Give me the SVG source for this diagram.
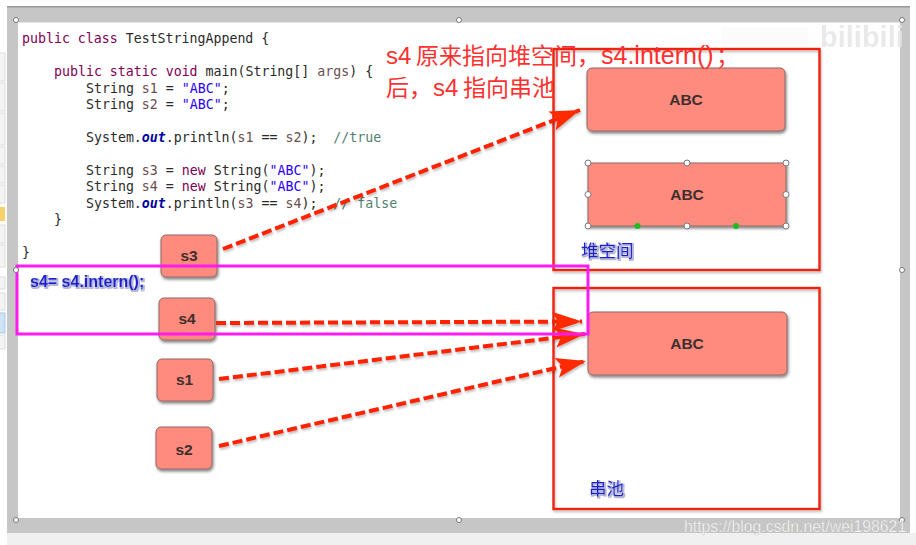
<svg xmlns="http://www.w3.org/2000/svg" width="916" height="545" viewBox="0 0 916 545">
<defs>
<filter id="sh" x="-20%" y="-20%" width="140%" height="140%"><feDropShadow dx="1" dy="2" stdDeviation="1.5" flood-color="#000" flood-opacity="0.5"/></filter>
<filter id="ls" filterUnits="userSpaceOnUse" x="0" y="0" width="916" height="545"><feDropShadow dx="1" dy="2" stdDeviation="1.2" flood-color="#000" flood-opacity="0.25"/></filter>
<filter id="glow" filterUnits="userSpaceOnUse" x="0" y="0" width="916" height="545"><feMorphology in="SourceAlpha" operator="dilate" radius="0.8" result="d"/><feFlood flood-color="#9aa0c8" flood-opacity="0.75"/><feComposite in2="d" operator="in" result="o"/><feOffset in="o" dx="0.6" dy="0.6" result="o2"/><feMerge><feMergeNode in="o2"/><feMergeNode in="SourceGraphic"/></feMerge></filter>
<marker id="arrow" markerUnits="userSpaceOnUse" markerWidth="34" markerHeight="26" refX="30" refY="13" orient="auto"><path d="M0 3 L30 13 L0 23 L6 13 Z" fill="#ff2a00"/></marker>
</defs>
<style>
.code{font-family:"DejaVu Sans Mono","Liberation Mono",monospace;font-size:13.25px;fill:#2a2a2a;white-space:pre}
.k{fill:#7f0055}.v{fill:#6a4e4e}.s{fill:#2a00ff}.c{fill:#4f8070}.o{fill:#0000a0;font-style:italic;font-weight:bold}
.box{fill:#ff8a7e;stroke:#8a6a66;stroke-width:1;filter:url(#sh)}
.lbl{font-family:"Liberation Sans",Arial,sans-serif;font-weight:bold;font-size:15.5px;fill:#3c2f2d;text-anchor:middle}
.frame{fill:none;stroke:#ee2211;stroke-width:2.4;filter:url(#ls)}
.red{font-family:"Liberation Sans","Noto Sans CJK SC",sans-serif;font-size:23px;fill:#ff3030}
.blue{font-family:"Liberation Sans","Noto Sans CJK SC",sans-serif;font-size:17.5px;fill:#1a1ad0;filter:url(#glow)}
.conn{fill:none;stroke:#ff2200;stroke-width:4;stroke-dasharray:10 4;filter:url(#ls)}
.h{fill:#fff;stroke:#777;stroke-width:1}
.g{fill:#22bb22}
.tb{fill:#f4f4f4;stroke:#dcdcdc;stroke-width:1}
</style>
<rect width="916" height="545" fill="#ffffff"/>
<rect x="7" y="533" width="909" height="12" fill="#f0f0f0"/>
<g id="toolbar">
<rect class="tb" x="-2" y="53" width="7" height="28"/><rect class="tb" x="-2" y="83" width="7" height="28"/>
<rect class="tb" x="-2" y="113" width="7" height="32"/><rect class="tb" x="-2" y="147" width="7" height="17"/>
<rect class="tb" x="-2" y="166" width="7" height="17"/><rect class="tb" x="-2" y="185" width="7" height="18"/>
<rect x="0" y="207" width="5" height="14" fill="#f7d26a"/>
<rect class="tb" x="-2" y="225" width="7" height="18"/><rect class="tb" x="-2" y="245" width="7" height="22"/>
<rect class="tb" x="-2" y="277" width="7" height="12"/><rect class="tb" x="-2" y="293" width="7" height="17"/>
<rect x="-2" y="313" width="7" height="20" fill="#cfe3f7" stroke="#a8c8e8"/>
<rect class="tb" x="-2" y="335" width="7" height="14"/>
</g>
<rect x="7" y="7" width="903" height="526" fill="#c6c6c6"/>
<rect x="7" y="6" width="903" height="1.500" fill="#9a9a9a"/>
<rect x="18" y="22.500" width="882" height="495.500" fill="#ffffff"/>
<g id="watermark">
<rect x="721" y="27" width="87" height="18" fill="#fbfbfb"/>
<text x="820" y="47" font-family="Liberation Sans,sans-serif" font-size="29" font-weight="bold" fill="#e6e6e6" opacity="0.85">bilibili</text>
</g>

<g id="code">
<text class="code" x="22" y="43"><tspan class="k">public class</tspan> TestStringAppend {</text>
<text class="code" x="54" y="76"><tspan class="k">public static void</tspan> main(String[] <tspan class="v">args</tspan>) {</text>
<text class="code" x="86" y="93">String <tspan class="v">s1</tspan> = <tspan class="s">"ABC"</tspan>;</text>
<text class="code" x="86" y="109">String <tspan class="v">s2</tspan> = <tspan class="s">"ABC"</tspan>;</text>
<text class="code" x="86" y="142">System.<tspan class="o">out</tspan>.println(<tspan class="v">s1</tspan> == <tspan class="v">s2</tspan>);  <tspan class="c">//true</tspan></text>
<text class="code" x="86" y="175">String <tspan class="v">s3</tspan> = <tspan class="k">new</tspan> String(<tspan class="s">"ABC"</tspan>);</text>
<text class="code" x="86" y="191">String <tspan class="v">s4</tspan> = <tspan class="k">new</tspan> String(<tspan class="s">"ABC"</tspan>);</text>
<text class="code" x="86" y="208">System.<tspan class="o">out</tspan>.println(<tspan class="v">s3</tspan> == <tspan class="v">s4</tspan>);  <tspan class="c">// false</tspan></text>
<text class="code" x="54" y="224">}</text>
<text class="code" x="22" y="257">}</text>
</g>

<g id="heap"><rect class="frame" x="553.5" y="49" width="266" height="221"/></g>
<g id="pool"><rect class="frame" x="553.5" y="288" width="266" height="221"/></g>

<g id="abc1"><rect class="box" x="587" y="68" width="198" height="63" rx="5"/><text class="lbl" x="686" y="104.500">ABC</text></g>
<g id="abc2">
<rect class="box" x="588" y="163" width="198" height="63"/><text class="lbl" x="687" y="200">ABC</text>
<circle class="h" cx="588" cy="163" r="3"/><circle class="h" cx="687" cy="163" r="3"/><circle class="h" cx="786" cy="163" r="3"/>
<circle class="h" cx="588" cy="194.500" r="3"/><circle class="h" cx="786" cy="194.500" r="3"/>
<circle class="h" cx="588" cy="226" r="3"/><circle class="h" cx="687" cy="226" r="3"/><circle class="h" cx="786" cy="226" r="3"/>
<circle class="g" cx="637.500" cy="226" r="3"/><circle class="g" cx="736" cy="226" r="3"/>
</g>
<g id="abc3"><rect class="box" x="588" y="312" width="199" height="63" rx="5"/><text class="lbl" x="687" y="348.500">ABC</text></g>

<g id="s3"><rect class="box" x="161" y="235" width="56" height="42" rx="5"/><text class="lbl" x="189" y="261">s3</text></g>
<g id="s4"><rect class="box" x="159" y="298" width="56" height="42" rx="5"/><text class="lbl" x="187" y="324">s4</text></g>
<g id="s1"><rect class="box" x="157" y="359" width="56" height="42" rx="5"/><text class="lbl" x="184.500" y="385">s1</text></g>
<g id="s2"><rect class="box" x="156" y="427" width="56" height="42" rx="5"/><text class="lbl" x="184" y="455">s2</text></g>

<g id="connectors">
<path class="conn" d="M223 249 L580 110" marker-end="url(#arrow)"/>
<path class="conn" d="M216 323 L582 321.500" marker-end="url(#arrow)"/>
<path class="conn" d="M219 379 L585 334" marker-end="url(#arrow)"/>
<path class="conn" d="M219 446 L586 361" marker-end="url(#arrow)"/>
</g>

<g id="highlight"><rect x="17" y="266" width="571" height="68" fill="none" stroke="#ff1aef" stroke-width="3"/></g>

<text class="blue" x="30" y="287" style="font-weight:bold;font-size:16px">s4= s4.intern();</text>
<text class="blue" x="581" y="256.500">堆空间</text>
<text class="blue" x="589" y="495">串池</text>
<text class="red" y="64"><tspan x="386" style="font-size:24px">s4</tspan><tspan x="416">原来指向堆空间，</tspan><tspan x="601" style="font-size:25px">s4.intern()</tspan><tspan x="716">；</tspan></text>
<text class="red" y="95.500"><tspan x="386">后，</tspan><tspan x="433" style="font-size:24px">s4</tspan><tspan x="463">指向串池</tspan></text>

<g id="handles">
<circle class="h" cx="16" cy="20" r="2.500"/><circle class="h" cx="459" cy="20" r="2.500"/><circle class="h" cx="902" cy="20" r="2.500"/>
<circle class="h" cx="16" cy="270" r="2.500"/><circle class="h" cx="902" cy="270" r="2.500"/>
<circle class="h" cx="16" cy="520" r="2.500"/><circle class="h" cx="459" cy="520" r="2.500"/><circle class="h" cx="902" cy="520" r="2.500"/>
</g>
<text x="684" y="532" font-family="Liberation Sans,sans-serif" font-size="15.800" fill="#f6f6f6" stroke="#b4b4b4" stroke-width="0.25">https://blog.csdn.net/wei198621</text>
</svg>
